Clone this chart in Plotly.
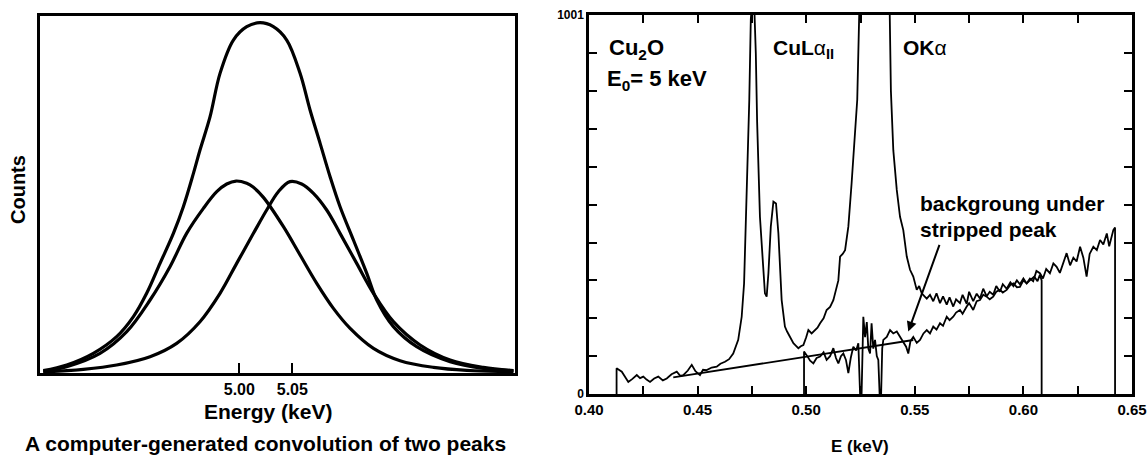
import plotly.graph_objects as go

W, H = 1147, 455
FONT = "Liberation Sans"

# ---------------- Left panel: convolution of two peaks ----------------
sum_E = [4.8151, 4.8372, 4.8623, 4.8843, 4.9001, 4.9126, 4.9252, 4.9378, 4.9472, 4.9567,
         4.9629, 4.9724, 4.9818, 4.9944, 5.0070, 5.0195, 5.0321, 5.0447, 5.0573, 5.0667,
         5.0762, 5.0856, 5.0950, 5.1076, 5.1202, 5.1296, 5.1453, 5.1673, 5.1988, 5.2302, 5.2585]
sum_y = [0.67, 2.28, 5.61, 10.37, 16.08, 22.74, 31.30, 39.87, 47.48, 56.99,
         63.65, 73.17, 85.54, 95.05, 98.86, 100.0, 98.86, 95.05, 85.54, 75.07,
         65.56, 56.04, 47.48, 37.96, 28.45, 20.84, 13.23, 7.52, 3.24, 1.33, 0.67]

peak1_E = [4.8151, 4.8372, 4.8686, 4.8938, 4.9158, 4.9346, 4.9503, 4.9661, 4.9787, 4.9881,
           4.9969, 5.0070, 5.0133, 5.0227, 5.0416, 5.0573, 5.0730, 5.0887, 5.1045, 5.1265,
           5.1516, 5.1831, 5.2145, 5.2585]
peak1_y = [0.48, 1.81, 5.61, 11.80, 20.84, 30.35, 39.87, 47.00, 51.76, 53.95,
           54.80, 54.14, 53.00, 50.14, 41.77, 33.68, 25.59, 18.46, 12.75, 7.04,
           3.52, 1.62, 0.76, 0.38]

peak2_E = [4.8151, 4.8529, 4.8843, 4.9158, 4.9409, 4.9629, 4.9818, 4.9975, 5.0133, 5.0258,
           5.0368, 5.0478, 5.0588, 5.0699, 5.0824, 5.0950, 5.1107, 5.1265, 5.1453, 5.1705,
           5.1988, 5.2302, 5.2585]
peak2_y = [0.29, 1.05, 2.28, 4.66, 8.47, 14.65, 22.74, 31.30, 39.87, 46.53,
           51.76, 54.62, 53.95, 51.28, 46.53, 39.87, 31.30, 22.74, 14.65, 7.99,
           3.71, 1.62, 0.67]

left_ticks = [5.00, 5.05]
left_ticktext = ["5.00", "5.05"]

# ---------------- Right panel: Cu2O spectrum ----------------
main_E = [0.4127, 0.4127, 0.4151, 0.4166, 0.4181, 0.4200, 0.4220, 0.4235, 0.4250, 0.4265,
          0.4281, 0.4300, 0.4319, 0.4340, 0.4358, 0.4380, 0.4404, 0.4420, 0.4434, 0.4455,
          0.4473, 0.4490, 0.4511, 0.4525, 0.4542, 0.4565, 0.4588, 0.4605, 0.4626, 0.4645,
          0.4664, 0.4687, 0.4703, 0.4714, 0.4721, 0.4726, 0.4733, 0.4738, 0.4745, 0.4752,
          0.4760, 0.4768, 0.4774, 0.4780, 0.4787, 0.4802, 0.4810, 0.4818, 0.4826, 0.4837,
          0.4849, 0.4861, 0.4872, 0.4887, 0.4902, 0.4912, 0.4925, 0.4933, 0.4941, 0.4952,
          0.4964, 0.4975, 0.4987, 0.5000, 0.5010, 0.5025, 0.5041, 0.5052, 0.5064, 0.5080,
          0.5094, 0.5110, 0.5125, 0.5140, 0.5148, 0.5156, 0.5168, 0.5179, 0.5194, 0.5209,
          0.5225, 0.5235, 0.5248, 0.5300, 0.5340, 0.5382, 0.5390, 0.5401, 0.5417, 0.5432,
          0.5447, 0.5463, 0.5478, 0.5493, 0.5509, 0.5520, 0.5532, 0.5545, 0.5555, 0.5570,
          0.5585, 0.5600, 0.5616, 0.5630, 0.5647, 0.5660, 0.5677, 0.5690, 0.5708, 0.5720,
          0.5739, 0.5750, 0.5769, 0.5785, 0.5800, 0.5815, 0.5831, 0.5845, 0.5861, 0.5875,
          0.5892, 0.5905, 0.5923, 0.5940, 0.5954, 0.5970, 0.5984, 0.6000, 0.6015, 0.6030,
          0.6050, 0.6065, 0.6076, 0.6084, 0.6084]
main_C = [0, 68, 59, 45, 32, 40, 50, 42, 46, 38,
          32, 41, 46, 36, 41, 52, 59, 48, 50, 62,
          77, 60, 50, 64, 63, 70, 72, 80, 85, 92,
          107, 143, 204, 292, 424, 556, 688, 777, 990, 1040,
          1040, 900, 720, 600, 468, 336, 266, 257, 319, 442,
          508, 503, 424, 248, 178, 165, 151, 140, 134, 128,
          121, 126, 129, 150, 169, 160, 169, 175, 187, 200,
          222, 230, 248, 283, 300, 363, 370, 380, 442, 556,
          688, 777, 1100, 3000, 3000, 1100, 800, 644, 539, 468,
          433, 363, 328, 310, 275, 285, 266, 258, 252, 262,
          245, 266, 240, 258, 236, 255, 231, 250, 240, 262,
          238, 270, 245, 265, 252, 278, 258, 270, 262, 285,
          270, 290, 278, 295, 285, 300, 290, 305, 292, 300,
          310, 298, 315, 300, 0]

strip_E = [0.4990, 0.4990, 0.5005, 0.5018, 0.5033, 0.5048, 0.5064, 0.5080, 0.5094, 0.5110,
           0.5125, 0.5137, 0.5148, 0.5160, 0.5171, 0.5183, 0.5194, 0.5205, 0.5217, 0.5230,
           0.5240, 0.5246, 0.5248, 0.5255, 0.5263, 0.5271, 0.5279, 0.5286, 0.5294, 0.5301,
           0.5309, 0.5317, 0.5325, 0.5332, 0.5338, 0.5345, 0.5350, 0.5355, 0.5371, 0.5386,
           0.5401, 0.5417, 0.5432, 0.5447, 0.5460, 0.5470, 0.5480, 0.5493, 0.5509, 0.5524,
           0.5540, 0.5555, 0.5570, 0.5585, 0.5600, 0.5616, 0.5630, 0.5647, 0.5660, 0.5677,
           0.5690, 0.5708, 0.5720, 0.5739, 0.5750, 0.5769, 0.5785, 0.5800, 0.5815, 0.5831,
           0.5845, 0.5861, 0.5875, 0.5892, 0.5905, 0.5923, 0.5940, 0.5954, 0.5970, 0.5984,
           0.6000, 0.6015, 0.6030, 0.6045, 0.6060, 0.6076, 0.6090, 0.6105, 0.6122, 0.6138,
           0.6153, 0.6168, 0.6184, 0.6199, 0.6215, 0.6230, 0.6245, 0.6261, 0.6276, 0.6291,
           0.6305, 0.6322, 0.6338, 0.6353, 0.6368, 0.6384, 0.6395, 0.6405, 0.6414, 0.6422,
           0.6422]
strip_C = [0, 112, 100, 88, 81, 95, 99, 110, 90, 100,
           121, 95, 81, 100, 107, 90, 55, 95, 125, 115,
           134, 60, 0, 0, 204, 150, 190, 120, 107, 187,
           120, 143, 100, 90, 0, 0, 120, 143, 151, 169,
           160, 165, 151, 140, 125, 107, 140, 151, 135, 143,
           160, 169, 160, 178, 170, 187, 180, 204, 195, 204,
           215, 222, 212, 231, 240, 222, 245, 248, 262, 257,
           250, 257, 270, 275, 268, 275, 288, 292, 282, 283,
           300, 292, 305, 298, 325, 319, 305, 330, 319, 345,
           336, 320, 345, 372, 340, 360, 350, 389, 360, 310,
           370, 389, 380, 407, 395, 424, 390, 410, 433, 440,
           0]

bkg_E = [0.4388, 0.5493]
bkg_C = [44, 142.6]

right_xticks = [0.40, 0.425, 0.45, 0.475, 0.50, 0.525, 0.55, 0.575, 0.60, 0.625, 0.65]
right_xticktext = ["0.40", "", "0.45", "", "0.50", "", "0.55", "", "0.60", "", "0.65"]
right_yticks = [0, 100, 200, 300, 400, 500, 600, 700, 800, 900, 1001]
right_yticktext = ["0", "", "", "", "", "", "", "", "", "", "1001"]


def px(x):
    return x / W


def py(y):
    return 1 - y / H


fig = go.Figure()
for xs, ys in [(sum_E, sum_y), (peak1_E, peak1_y), (peak2_E, peak2_y)]:
    fig.add_trace(go.Scatter(x=xs, y=ys, mode="lines",
                             line=dict(color="black", width=3.2, shape="spline", smoothing=1.0),
                             xaxis="x", yaxis="y", showlegend=False, hoverinfo="skip"))

for xs, ys in [(main_E, main_C), (strip_E, strip_C), (bkg_E, bkg_C)]:
    fig.add_trace(go.Scatter(x=xs, y=ys, mode="lines", line=dict(color="black", width=1.8),
                             xaxis="x2", yaxis="y2", showlegend=False, hoverinfo="skip"))

axis_common = dict(showline=True, linecolor="black", mirror=True, showgrid=False, zeroline=False)

fig.update_layout(
    width=W, height=H, margin=dict(l=0, r=0, t=0, b=0, autoexpand=False),
    paper_bgcolor="white", plot_bgcolor="white",
    font=dict(family=FONT, color="black"),
    xaxis=dict(domain=[px(40), px(515)], range=[4.812, 5.26], linewidth=3, anchor="y",
               ticks="inside", tickvals=left_ticks, ticktext=left_ticktext, ticklen=10, tickwidth=2,
               tickcolor="black", tickfont=dict(size=16, family=FONT, weight="bold"), **axis_common),
    yaxis=dict(domain=[py(373), py(15.7)], range=[0, 102], linewidth=3, showticklabels=False,
               anchor="x", ticks="", **axis_common),
    xaxis2=dict(domain=[px(589), px(1132)], range=[0.40, 0.65], linewidth=2.5, anchor="y2",
                ticks="inside", tickvals=right_xticks, ticktext=right_xticktext, ticklen=8, tickwidth=2,
                tickcolor="black", tickfont=dict(size=15, family=FONT, weight="bold"),
                showline=True, linecolor="black", mirror="allticks", showgrid=False, zeroline=False),
    yaxis2=dict(domain=[py(394), py(15)], range=[0, 1001], linewidth=2.5, anchor="x2",
                ticks="inside", tickvals=right_yticks, ticktext=right_yticktext, ticklen=8, tickwidth=2,
                tickcolor="black", tickfont=dict(size=12, family=FONT, weight="bold"),
                showline=True, linecolor="black", mirror="allticks", showgrid=False, zeroline=False),
)

ann = []


def txt(text, x, y, size, xanchor="center", yanchor="middle", angle=0, bold=True):
    ann.append(dict(text=text, x=px(x), y=py(y), xref="paper", yref="paper", showarrow=False,
                    xanchor=xanchor, yanchor=yanchor, textangle=angle,
                    font=dict(size=size, family=FONT, color="black", weight="bold" if bold else "normal")))


txt("Counts", 18, 190, 20, angle=-90)
txt("Energy (keV)", 268, 411, 21)
txt("A computer-generated convolution of two peaks", 265, 443, 21)
txt("E (keV)", 860, 446, 17)
txt("Cu<sub>2</sub>O", 607, 49, 22, xanchor="left")
txt("E<sub>0</sub>= 5 keV", 605, 80, 22, xanchor="left")
txt("CuL<span style='font-weight:normal'>α</span><sub>II</sub>", 771, 49, 21, xanchor="left")
txt("OK<span style='font-weight:normal'>α</span>", 901, 48, 21, xanchor="left")
txt("backgroung under", 918, 203, 21, xanchor="left")
txt("stripped peak", 918, 229, 21, xanchor="left")

ann.append(dict(x=0.5470, y=165, xref="x2", yref="y2", ax=0.5616, ay=398, axref="x2", ayref="y2",
                text="", showarrow=True, arrowhead=2, arrowsize=1, arrowwidth=2, arrowcolor="black"))

fig.update_layout(annotations=ann)
fig.write_html("out.html", config={"displayModeBar": False},
               post_script="document.body.style.margin='0px';")
